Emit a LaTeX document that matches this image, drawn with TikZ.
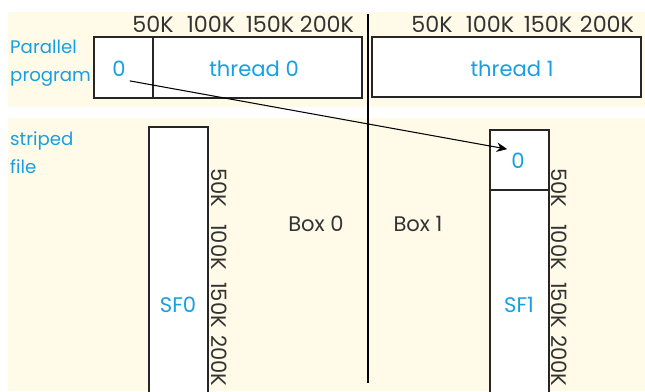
\documentclass[tikz,border=0pt]{standalone}
\usepackage{fontspec}
\setmainfont{Poppins}
\usetikzlibrary{arrows.meta}

\definecolor{cream}{RGB}{255,251,232}
\definecolor{inkblue}{RGB}{22,160,226}

\tikzset{
  band/.style={fill=cream,draw=none},
  blk/.style={draw=black!85,line width=1.2pt,fill=white},
  lbl/.style={text=inkblue,font=\fontsize{18}{20}\selectfont},
  side/.style={text=inkblue,font=\fontsize{15.5}{24}\selectfont,align=left,anchor=west,inner sep=0pt},
  tick/.style={text=black!80,font=\fontsize{19}{21}\selectfont,inner sep=0pt},
  vtick/.style={tick,rotate=-90,font=\fontsize{18}{20}\selectfont},
  boxname/.style={text=black!80,font=\fontsize{18}{20}\selectfont},
}

\begin{document}
\begin{tikzpicture}[x=0.03cm,y=-0.03cm]
  \useasboundingbox (0,0) rectangle (645,391);
  % background bands
  \fill[band] (8,12) rectangle (645,107);
  \fill[band] (8,118) rectangle (645,391);

  % row titles
  \node[side] (par) at (10,63) {Parallel\\program};
  \node[side] (stp) at (10,153) {striped\\file};

  % program blocks
  \draw[blk] (94,37) rectangle (362,98);
  \draw[blk] (153,37) -- (153,98);
  \draw[blk] (372,37) rectangle (641,97);
  \node[lbl] (z0) at (119,69) {0};
  \node[lbl] (t0) at (254,69) {thread 0};
  \node[lbl] (t1) at (512,69) {thread 1};
  \foreach \x/\t in {153/50K,211/100K,270/150K,327/200K}
    \node[tick] at (\x,24) {\t};
  \foreach \x/\t in {432/50K,490/100K,548/150K,607/200K}
    \node[tick] at (\x,24) {\t};

  % striped file blocks
  \draw[blk] (149,127) rectangle (208,395);
  \draw[blk] (490,130) rectangle (549,395);
  \draw[blk] (490,190) -- (549,190);
  \node[lbl] (sf0) at (178,305) {SF0};
  \node[lbl] (sf1) at (519,305) {SF1};
  \node[lbl] (z1) at (518,161) {0};
  \foreach \y/\t in {188/50K,247/100K,305/150K,361/200K}{
    \node[vtick] at (219,\y) {\t};
    \node[vtick] at (559,\y) {\t};
  }

  % machine boundary
  \draw[line width=1.8pt] (368,14) -- (368,383);
  \node[boxname] (b0) at (316,224) {Box 0};
  \node[boxname] (b1) at (418,224) {Box 1};

  \draw[line width=0.9pt,-{Stealth[length=9pt,width=8pt]}] (z0.south east) -- (z1.north west);
\end{tikzpicture}
\end{document}
